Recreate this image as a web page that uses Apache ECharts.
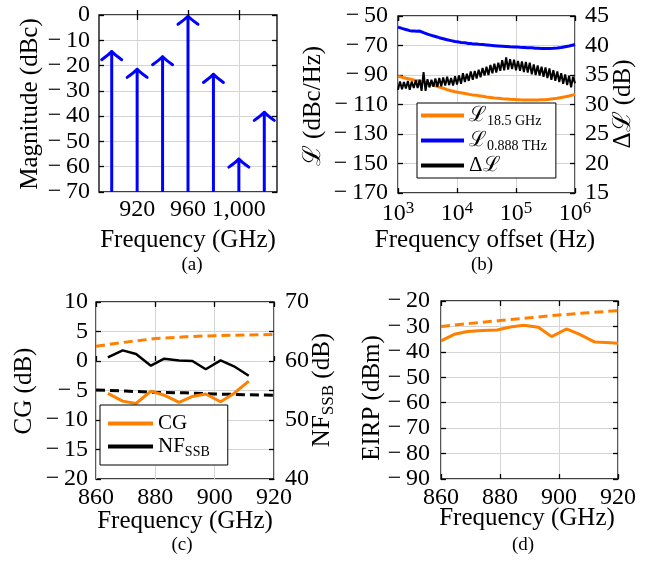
<!DOCTYPE html>
<html><head><meta charset="utf-8">
<script src="https://cdn.jsdelivr.net/npm/echarts@6/dist/echarts.min.js"></script>
<style>html,body{margin:0;padding:0;background:#fff}#c{width:654px;height:561px}</style>
</head><body><div id="c"></div>
<script>
// ---------- (a) spectrum ----------
const toneFreqGHz = [900, 920, 940, 960, 980, 1000, 1020];
const toneMagDBc = [-14.5, -21.5, -16.5, -0.5, -23.5, -57, -38.5];
const aXTicks = [920, 960, 1000];
// ---------- (b) phase noise ----------
const decadeMantissa = [1.00,1.08,1.17,1.26,1.36,1.47,1.58,1.71,1.85,2.00,2.15,2.33,2.51,2.71,2.93,3.16,3.41,3.69,3.98,4.30,4.64,5.01,5.41,5.84,6.31,6.81,7.36,7.94,8.58,9.26];
const offsetDecades = [1e3, 1e4, 1e5];
const pn185DBcHz = [
 -90.9,-91.2,-91.5,-91.9,-92.2,-92.5,-92.7,-93.0,-93.3,-93.5,
 -93.8,-94.1,-94.4,-94.7,-95.1,-95.5,-95.9,-96.3,-96.8,-97.3,
 -97.8,-98.2,-98.6,-99.0,-99.5,-99.9,-100.3,-100.7,-101.0,-101.3,
 -101.5,-101.8,-102.1,-102.4,-102.6,-102.9,-103.1,-103.3,-103.5,-103.7,
 -103.8,-104.0,-104.2,-104.4,-104.7,-104.9,-105.1,-105.2,-105.4,-105.6,
 -105.7,-105.8,-105.9,-106.1,-106.2,-106.3,-106.4,-106.5,-106.6,-106.6,
 -106.7,-106.7,-106.8,-106.8,-106.9,-106.9,-106.9,-107.0,-107.0,-106.9,
 -106.9,-106.9,-106.8,-106.8,-106.8,-106.7,-106.6,-106.5,-106.3,-106.1,
 -106.0,-105.8,-105.6,-105.3,-105.1,-104.8,-104.5,-104.2,-103.9,-103.5,
 -103.1];
const pn888DBcHz = [
 -57.5,-57.9,-58.4,-58.7,-59.2,-59.5,-59.9,-60.2,-60.1,-60.6,
 -60.4,-60.2,-60.9,-61.3,-61.8,-62.3,-62.7,-63.1,-63.6,-63.9,
 -64.4,-64.7,-65.1,-65.4,-65.8,-66.1,-66.5,-66.7,-67.0,-67.3,
 -67.6,-67.7,-67.9,-68.1,-68.2,-68.4,-68.6,-68.7,-68.9,-69.0,
 -69.0,-69.2,-69.3,-69.4,-69.6,-69.6,-69.8,-69.9,-70.0,-70.1,
 -70.2,-70.3,-70.4,-70.5,-70.6,-70.7,-70.8,-70.9,-70.9,-71.0,
 -71.0,-71.1,-71.2,-71.2,-71.3,-71.4,-71.5,-71.5,-71.6,-71.7,
 -71.8,-71.8,-71.9,-72.0,-72.0,-72.1,-72.1,-72.0,-72.0,-71.9,
 -71.9,-71.7,-71.6,-71.4,-71.2,-70.8,-70.6,-70.3,-70.0,-69.7,
 -69.3];
const deltaPnDB = [
 32.5,33.9,32.6,33.8,32.7,34.0,32.5,33.9,32.8,34.1,
 32.8,34.2,32.3,35.5,32.3,34.3,32.9,34.2,33.0,34.4,
 33.0,34.5,33.1,34.6,33.2,34.7,33.3,34.5,33.2,34.8,
 33.4,34.9,33.5,35.3,33.8,35.2,34.0,35.6,34.2,35.7,
 34.4,35.9,34.6,36.2,34.9,36.4,35.0,36.7,35.3,36.9,
 35.4,37.1,35.7,37.5,35.8,38.0,35.9,37.7,36.0,37.6,
 35.8,37.4,35.7,37.3,35.5,37.2,35.4,37.1,35.1,36.8,
 35.0,36.6,34.9,36.4,34.7,36.3,34.5,36.1,34.2,35.8,
 34.0,35.6,33.8,35.3,33.5,35.1,33.3,34.9,32.9,34.7,
 33.6];
const bLeftTicks = [-170, -150, -130, -110, -90, -70, -50];
// ---------- (c) conversion gain / noise figure ----------
const cFreqGHz = [864, 869, 873.5, 878.5, 883, 888, 892.5, 897, 902, 906.5, 911.5];
const cgMeasDB = [-5.5, -6.8, -7.2, -5.1, -5.8, -7.0, -6.0, -5.6, -6.9, -5.5, -3.4];
const nfMeasDB = [60.6, 61.8, 61.2, 59.2, 60.4, 60.1, 60.0, 58.6, 60.1, 59.1, 57.5];
const simFreqGHz = [860, 870, 880, 890, 900, 910, 920];
const cgSimDB = [2.5, 3.2, 3.8, 4.1, 4.3, 4.4, 4.5];
const nfSimDB = [55.1, 54.9, 54.7, 54.6, 54.4, 54.3, 54.2];
// ---------- (d) EIRP ----------
const eirpFreqGHz = [860, 864.5, 869, 874, 879, 883.5, 888, 893, 897.5, 902.5, 907, 912, 916, 920];
const eirpMeasDBm = [-35.7, -33.1, -32.0, -31.6, -31.4, -30.2, -29.5, -30.3, -34.0, -31.0, -33.1, -36.1, -36.3, -36.6];
const eirpSimDBm = [-30.0, -28.8, -27.7, -26.6, -25.5, -24.6, -23.8];

const FONT = '"Liberation Serif", "DejaVu Serif", serif';
const TFS = 24, NFS = 25;
const ORANGE = '#ff8000', BLUE = '#0000ff', BLACK = '#000000';
const offsetsHz = [];
offsetDecades.forEach(d => decadeMantissa.forEach(m => offsetsHz.push(m * d)));
offsetsHz.push(1e6);
const pairs = (xs, ys) => xs.map((x, i) => [x, ys[i]]);
const fmtNum = v => (v < 0 ? '\u2212\u2009' : '') + Math.abs(v);

const TICK = {inside: true, length: 5, lineStyle: {color: '#000', width: 1.3}};
const SPLIT = {show: true, lineStyle: {color: '#d4d4d4', width: 1}};
function lab(margin, extra) {
  return Object.assign({color: '#000', fontFamily: FONT, fontSize: TFS, margin: margin, formatter: fmtNum}, extra || {});
}
function ax(o) {
  return Object.assign({type: 'value', axisLine: {show: false}, axisTick: TICK, splitLine: {show: false}}, o);
}
const mirrorLabel = {show: false};

const grids = [
  {left: 99, top: 15, width: 178, height: 177},
  {left: 398, top: 16, width: 177, height: 177},
  {left: 96, top: 302, width: 178, height: 177},
  {left: 441, top: 301, width: 177, height: 178}
].map(g => Object.assign(g, {show: true, borderColor: '#000', borderWidth: 1.3, backgroundColor: 'rgba(0,0,0,0)'}));

const xAxes = [
  ax({gridIndex: 0, min: 890, max: 1030, axisTick: Object.assign({}, TICK, {customValues: aXTicks}),
      axisLabel: lab(6, {customValues: aXTicks, formatter: v => v === 1000 ? '1,000' : String(v)}), splitLine: SPLIT}),
  ax({gridIndex: 0, position: 'top', min: 890, max: 1030, axisTick: Object.assign({}, TICK, {customValues: aXTicks}), axisLabel: mirrorLabel}),
  ax({gridIndex: 1, type: 'log', logBase: 10, min: 1e3, max: 1e6, interval: 1,
      axisLabel: lab(7, {formatter: v => '{b|10}{s|' + Math.round(Math.log10(v)) + '}',
        rich: {b: {fontFamily: FONT, fontSize: TFS, lineHeight: 28, color: '#000'},
               s: {fontFamily: FONT, fontSize: 17, lineHeight: 14, verticalAlign: 'top', color: '#000'}}}),
      splitLine: SPLIT}),
  ax({gridIndex: 1, type: 'log', logBase: 10, position: 'top', min: 1e3, max: 1e6, axisLabel: mirrorLabel}),
  ax({gridIndex: 2, min: 860, max: 920, interval: 20, axisLabel: lab(7), splitLine: SPLIT}),
  ax({gridIndex: 2, position: 'top', min: 860, max: 920, interval: 20, axisLabel: mirrorLabel}),
  ax({gridIndex: 3, min: 860, max: 920, interval: 20, axisLabel: lab(7), splitLine: SPLIT}),
  ax({gridIndex: 3, position: 'top', min: 860, max: 920, interval: 20, axisLabel: mirrorLabel})
];
const yAxes = [
  ax({gridIndex: 0, min: -70, max: 0, interval: 10, axisLabel: lab(9), splitLine: SPLIT}),
  ax({gridIndex: 0, position: 'right', min: -70, max: 0, interval: 10, axisLabel: mirrorLabel}),
  ax({gridIndex: 1, min: -170, max: -50, axisTick: Object.assign({}, TICK, {customValues: bLeftTicks}),
      axisLabel: lab(10, {customValues: bLeftTicks}), splitLine: SPLIT}),
  ax({gridIndex: 1, position: 'right', min: 15, max: 45, interval: 5, axisLabel: lab(10)}),
  ax({gridIndex: 2, min: -20, max: 10, interval: 5, axisLabel: lab(8), splitLine: SPLIT}),
  ax({gridIndex: 2, position: 'right', min: 40, max: 70, interval: 5, axisLabel: lab(11, {formatter: v => v % 10 === 0 ? String(v) : ''})}),
  ax({gridIndex: 3, min: -90, max: -20, interval: 10, axisLabel: lab(11), splitLine: SPLIT}),
  ax({gridIndex: 3, position: 'right', min: -90, max: -20, interval: 10, axisLabel: mirrorLabel})
];

function stem(params, api) {
  const top = api.coord([api.value(0), api.value(1)]);
  const base = api.coord([api.value(0), -70]);
  const st = {stroke: BLUE, lineWidth: 3, fill: null, lineCap: 'round'};
  return {type: 'group', children: [
    {type: 'line', shape: {x1: top[0], y1: top[1] + 1, x2: base[0], y2: base[1]}, style: {stroke: BLUE, lineWidth: 3}},
    {type: 'bezierCurve', shape: {x1: top[0] - 10, y1: top[1] + 8, cpx1: top[0] - 3, cpy1: top[1] + 3, x2: top[0], y2: top[1]}, style: st},
    {type: 'bezierCurve', shape: {x1: top[0] + 10, y1: top[1] + 8, cpx1: top[0] + 3, cpy1: top[1] + 3, x2: top[0], y2: top[1]}, style: st}
  ]};
}

function lineS(name, xi, yi, data, color, width, dashed, z) {
  return {name: name, type: 'line', xAxisIndex: xi, yAxisIndex: yi, data: data, showSymbol: false, symbol: 'none',
    color: color, itemStyle: {color: color}, z: z || 3,
    lineStyle: {color: color, width: width, type: dashed ? [9, 5] : 'solid'}, animation: false};
}

const richLegend = {
  m: {fontFamily: FONT, fontSize: 21, lineHeight: 25, color: '#000'},
  s: {fontFamily: FONT, fontSize: 14, lineHeight: 14, verticalAlign: 'bottom', color: '#000'}
};
const legendNames = {
  L18: '{m|\u2112}{s|18.5 GHz}', L888: '{m|\u2112}{s|0.888 THz}', dL: '{m|\u0394\u2112}',
  CG: '{m|CG}', NF: '{m|NF}{s|SSB}'
};

function title(text, x, y, rot, rich, size) {
  return {type: 'text', x: x, y: y, rotation: rot ? Math.PI / 2 : 0, z: 10,
    style: {text: text, fontFamily: FONT, fontSize: size || NFS, fill: '#000', align: 'center', verticalAlign: 'middle', rich: rich}};
}
const titleRich = {
  m: {fontFamily: FONT, fontSize: NFS, lineHeight: 30, fill: '#000', color: '#000'},
  s: {fontFamily: FONT, fontSize: 17, lineHeight: 16, verticalAlign: 'bottom', fill: '#000', color: '#000'}
};

const option = {
  animation: false,
  backgroundColor: '#fff',
  grid: grids,
  xAxis: xAxes,
  yAxis: yAxes,
  legend: [
    {data: ['L18', 'L888', 'dL'], left: 417, top: 103, orient: 'vertical', itemWidth: 43, itemHeight: 4, itemGap: 2,
     icon: 'rect', padding: [2, 9, 2, 4], backgroundColor: '#fff', borderColor: '#000', borderWidth: 1,
     formatter: n => legendNames[n], textStyle: {fontFamily: FONT, fontSize: 21, color: '#000', rich: richLegend}, selectedMode: false},
    {data: ['CG', 'NF'], left: 100, top: 405, orient: 'vertical', itemWidth: 45, itemHeight: 4, itemGap: 2,
     icon: 'rect', padding: [8, 18, 6, 8], backgroundColor: '#fff', borderColor: '#000', borderWidth: 1,
     formatter: n => legendNames[n], textStyle: {fontFamily: FONT, fontSize: 21, color: '#000', rich: richLegend}, selectedMode: false}
  ],
  series: [
    {type: 'custom', name: 'tones', xAxisIndex: 0, yAxisIndex: 0, data: pairs(toneFreqGHz, toneMagDBc), renderItem: stem, z: 5},
    lineS('L18', 2, 2, pairs(offsetsHz, pn185DBcHz), ORANGE, 3),
    lineS('L888', 2, 2, pairs(offsetsHz, pn888DBcHz), BLUE, 3),
    lineS('dL', 2, 3, pairs(offsetsHz, deltaPnDB), BLACK, 2, false, 4),
    lineS('CGsim', 4, 4, pairs(simFreqGHz, cgSimDB), ORANGE, 3, true),
    lineS('NFsim', 4, 5, pairs(simFreqGHz, nfSimDB), BLACK, 3, true),
    lineS('CG', 4, 4, pairs(cFreqGHz, cgMeasDB), ORANGE, 3),
    lineS('NF', 4, 5, pairs(cFreqGHz, nfMeasDB), BLACK, 2.5),
    lineS('EIRPsim', 6, 6, pairs(simFreqGHz, eirpSimDBm), ORANGE, 3, true),
    lineS('EIRP', 6, 6, pairs(eirpFreqGHz, eirpMeasDBm), ORANGE, 3)
  ],
  graphic: [
    title('Magnitude (dBc)', 30, 104, true),
    title('Frequency (GHz)', 188, 240),
    title('(a)', 192, 265, false, null, 19),
    title('{m|\u2112} {m|(dBc/Hz)}', 313, 106, true, titleRich),
    title('{m|\u0394\u2112} {m|(dB)}', 623, 104, true, titleRich),
    title('Frequency offset (Hz)', 485, 240),
    title('(b)', 482, 265, false, null, 19),
    title('CG (dB)', 24, 391, true),
    title('{m|NF}{s|SSB}{m| (dB)}', 322, 390, true, titleRich),
    title('Frequency (GHz)', 185, 521),
    title('(c)', 182, 545, false, null, 19),
    title('EIRP (dBm)', 372, 398, true),
    title('Frequency (GHz)', 527, 518),
    title('(d)', 523, 545, false, null, 19)
  ]
};
const chart = echarts.init(document.getElementById('c'), null, {renderer: 'canvas', width: 654, height: 561});
chart.setOption(option);
</script>
</body></html>
